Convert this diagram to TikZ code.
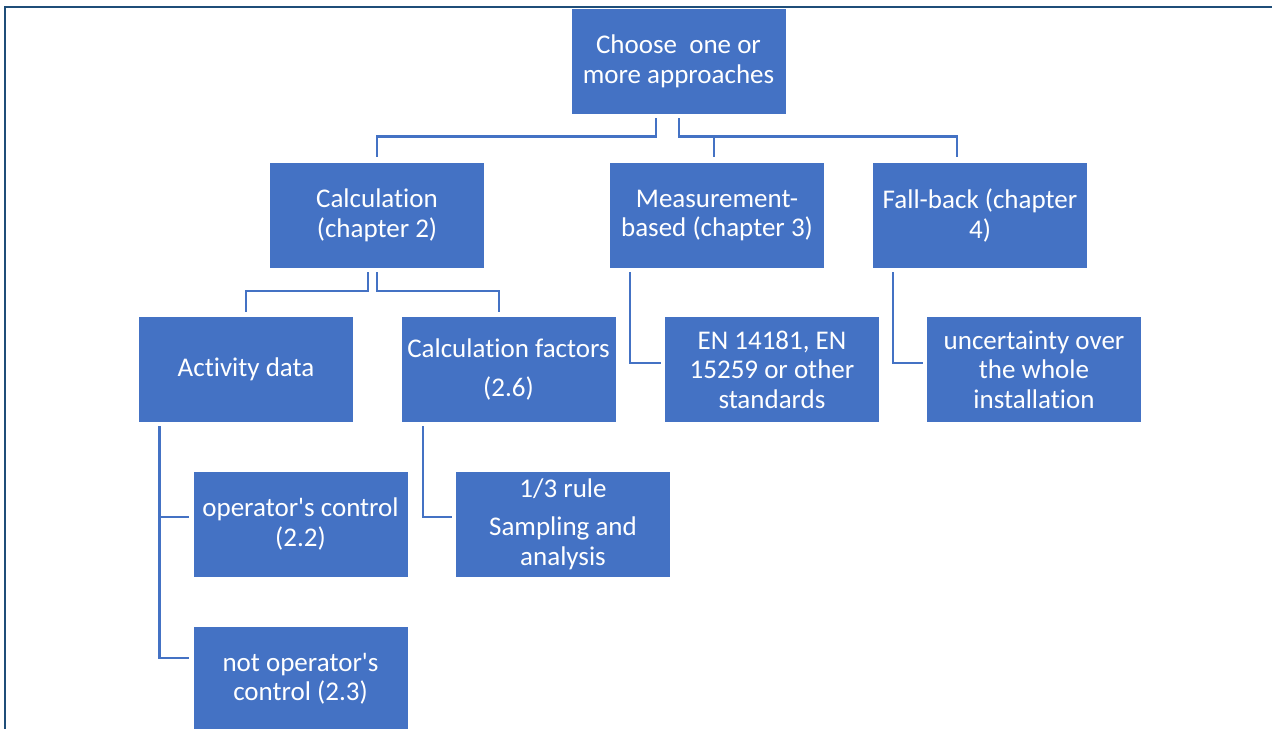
\documentclass[tikz,border=0pt]{standalone}
\usepackage{fontspec}
\setmainfont{Carlito}[Ligatures={TeXOff,NoCommon}]
\definecolor{boxblue}{HTML}{4472C4}
\definecolor{frameblue}{HTML}{1F4E79}
\begin{document}
\begin{tikzpicture}[x=1bp,y=-1bp,
  box/.style={fill=boxblue,draw=none,minimum width=214bp,minimum height=105bp,inner sep=0pt,
    text=white,align=center,font=\fontsize{27bp}{29.5bp}\selectfont},
  conn/.style={draw=boxblue,line width=2.6bp}]
\useasboundingbox (0,0) rectangle (1272,729);
% frame
\draw[frameblue,line width=2.2bp] (5,729) -- (5,7) -- (1272,7);
% boxes
\node[box] (top)   at (678.5,61.5) {Choose\ \ one or\\more approaches};
\node[box] (calc)  at (377,215.5) {Calculation\\(chapter 2)};
\node[box] (meas)  at (717,215.5) {Measurement-\\based (chapter 3)};
\node[box] (fall)  at (980,215.5) {Fall-back (chapter\\4)};
\node[box] (act)   at (246,369.5) {Activity data};
\node[box] (cf)    at (508.5,369.5) {Calculation factors\\[9bp](2.6)};
\node[box] (en)    at (772,369.5) {EN 14181, EN\\15259 or other\\standards};
\node[box] (unc)   at (1034,369.5) {uncertainty over\\the whole\\installation};
\node[box] (op)    at (300.5,524) {operator's control\\(2.2)};
\node[box] (rule)  at (563,524) {1/3 rule\\[9bp]Sampling and\\analysis};
\node[box] (notop) at (300.5,679) {not operator's\\control (2.3)};
% connectors level 0 -> 1
\draw[conn] ([xshift=-22.5bp,yshift=-4bp]top.south) |- ([yshift=26bp]calc.north) -- ([yshift=6bp]calc.north);
\draw[conn] ([xshift=0.5bp,yshift=-4bp]top.south) |- ([xshift=-23bp,yshift=26bp]fall.north) -- ([xshift=-23bp,yshift=6bp]fall.north);
\draw[conn] ([xshift=-3bp,yshift=26bp]meas.north) -- ([xshift=-3bp,yshift=6bp]meas.north);
% calc -> children
\draw[conn] ([xshift=-9bp,yshift=-4bp]calc.south) |- ([yshift=26bp]act.north) -- ([yshift=5bp]act.north);
\draw[conn] ([xshift=0bp,yshift=-4bp]calc.south) |- ([xshift=-9.5bp,yshift=26bp]cf.north) -- ([xshift=-9.5bp,yshift=5bp]cf.north);
% activity data
\draw[conn] ([xshift=-86.5bp,yshift=-4bp]act.south) |- ([xshift=-4bp,yshift=7bp]op.west);
\draw[conn] ([xshift=-86.5bp,yshift=-4bp]act.south) |- ([xshift=-4bp,yshift=21bp]notop.west);
% calculation factors
\draw[conn] ([xshift=-85.5bp,yshift=-4bp]cf.south) |- ([xshift=-4bp,yshift=7bp]rule.west);
% measurement / fall-back
\draw[conn] ([xshift=-87bp,yshift=-4bp]meas.south) |- ([xshift=-4bp,yshift=6.5bp]en.west);
\draw[conn] ([xshift=-87bp,yshift=-4bp]fall.south) |- ([xshift=-4bp,yshift=6.5bp]unc.west);
\end{tikzpicture}
\end{document}
